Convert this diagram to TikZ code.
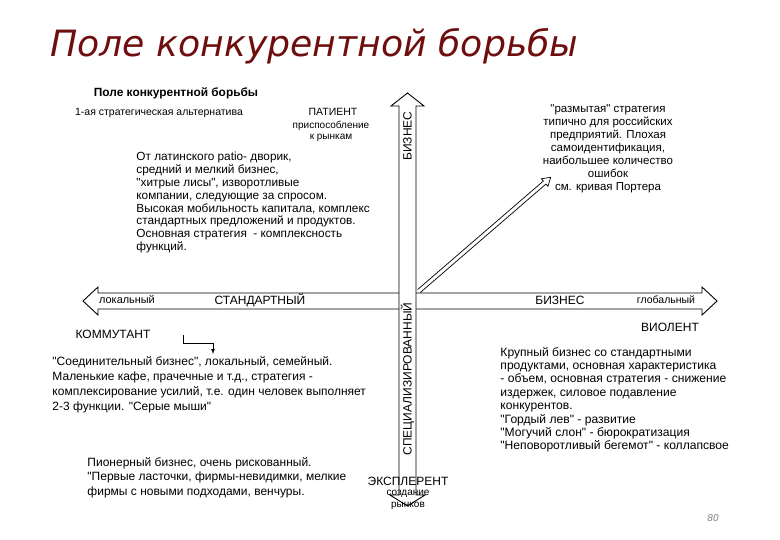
\documentclass[tikz,border=0pt]{standalone}
\usepackage{fontspec}
\setmainfont{Liberation Sans}[Ligatures=TeXOff]
\newfontfamily\titlefont{DejaVu Sans}
\usetikzlibrary{positioning}
\usetikzlibrary{arrows}
\definecolor{titlered}{RGB}{110,14,14}

\begin{document}
\begin{tikzpicture}[x=1pt, y=-1pt, line width=.9pt,
    lbl/.style={inner sep=0pt, font=\fontsize{12}{14}\selectfont},
    tiny/.style={inner sep=0pt, font=\fontsize{10.5}{12}\selectfont},
    para/.style={inner sep=0pt, anchor=base west, align=left}]
    \useasboundingbox (0,0) rectangle (780,540);

    % title
    \node[inner sep=0pt, anchor=base west, text=titlered,
          font=\titlefont\itshape\fontsize{36.2}{38}\selectfont] (title) at (50,57) {Поле конкурентной борьбы};

    % axes
    \draw (98,293) -- (702,293) -- (702,287) -- (717,301) -- (702,315) -- (702,309)
        -- (98,309) -- (98,315) -- (83,301) -- (98,287) -- cycle;
    \draw[fill=white] (399,106) -- (399,495) -- (390,495) -- (407.5,506) -- (425,495) -- (416,495)
        -- (416,106) -- (424,106) -- (407.5,93) -- (391,106) -- cycle;

    % diagonal arrow
    \begin{scope}[shift={(419,291)}, rotate=40.8, line width=.7pt]
        \draw (0,2) -- (166,2) -- (166,5) -- (174,0) -- (166,-5) -- (166,-2) -- (0,-2);
    \end{scope}

    % axis labels
    \node[lbl, rotate=90] (bizv) at (407.5,136) {БИЗНЕС};
    \node[lbl, rotate=90] (spec) at (407.5,379) {СПЕЦИАЛИЗИРОВАННЫЙ};
    \node[tiny, font=\fontsize{10.9}{12}\selectfont] (lok) at (127,300) {локальный};
    \node[lbl] (stand) at (260,300) {СТАНДАРТНЫЙ};
    \node[lbl] (bizh) at (560,300) {БИЗНЕС};
    \node[tiny] (glob) at (666,300) {глобальный};

    % header
    \node[inner sep=0pt, font=\bfseries\fontsize{11.9}{13}\selectfont] (sub) at (176,93) {Поле конкурентной борьбы};
    \node[tiny] (alt) at (159,113) {1-ая стратегическая альтернатива};

    % patient
    \node[inner sep=0pt, font=\fontsize{10.5}{12}\selectfont] (pat) at (333,112) {ПАТИЕНТ};
    \node[inner sep=0pt, font=\fontsize{10}{11}\selectfont, align=center] (patx) at (331,131.5) {приспособление\\к рынкам};
    % (base = last line)
    \node[para, font=\fontsize{11.8}{12.8}\selectfont] (pattxt) at (136,250.6) {От латинского patio- дворик,\\средний и мелкий бизнес,\\"хитрые лисы", изворотливые\\компании, следующие за спросом.\\Высокая мобильность капитала, комплекс\\стандартных предложений и продуктов.\\Основная стратегия \ - комплексность\\функций.};

    % blurred
    \node[inner sep=0pt, anchor=base, align=center, font=\fontsize{11.5}{13}\selectfont] (blur) at (608,191) {"размытая" стратегия\\типично для российских\\предприятий. Плохая\\самоидентификация,\\наибольшее количество\\ошибок\\см. кривая Портера};

    % commutant
    \node[lbl] (komm) at (113,334) {КОММУТАНТ};
    \coordinate (kstart) at (183,335);
    \coordinate (kend) at (213,354);
    \draw[line width=.7pt, -latex] (kstart) |- (213,343) -- (kend);
    \node[para, font=\fontsize{12}{14.7}\selectfont] (kommtxt) at (52,410) {"Соединительный бизнес", локальный, семейный.\\Маленькие кафе, прачечные и т.д., стратегия -\\комплексирование усилий, т.е. один человек выполняет\\2-3 функции. "Серые мыши"};

    % violent
    \node[lbl] (viol) at (670,327) {ВИОЛЕНТ};
    \node[para, font=\fontsize{12.1}{13.4}\selectfont] (violtxt) at (500,449.8) {Крупный бизнес со стандартными\\продуктами, основная характеристика\\- объем, основная стратегия - снижение\\издержек, силовое подавление\\конкурентов.\\"Гордый лев" - развитие\\"Могучий слон" - бюрократизация\\"Неповоротливый бегемот" - коллапсвое};

    % explerent
    \node[para, font=\fontsize{12}{14.5}\selectfont] (explt) at (87,495) {Пионерный бизнес, очень рискованный.\\"Первые ласточки, фирмы-невидимки, мелкие\\фирмы с новыми подходами, венчуры.};
    \node[lbl] (expl) at (408,481) {ЭКСПЛЕРЕНТ};
    \node[inner sep=0pt, font=\fontsize{10}{11.5}\selectfont, align=center] (explx) at (408,500) {создание\\рынков};

    \node[inner sep=0pt, text=gray, font=\itshape\fontsize{10}{12}\selectfont] (page) at (713,518) {80};
\end{tikzpicture}
\end{document}
